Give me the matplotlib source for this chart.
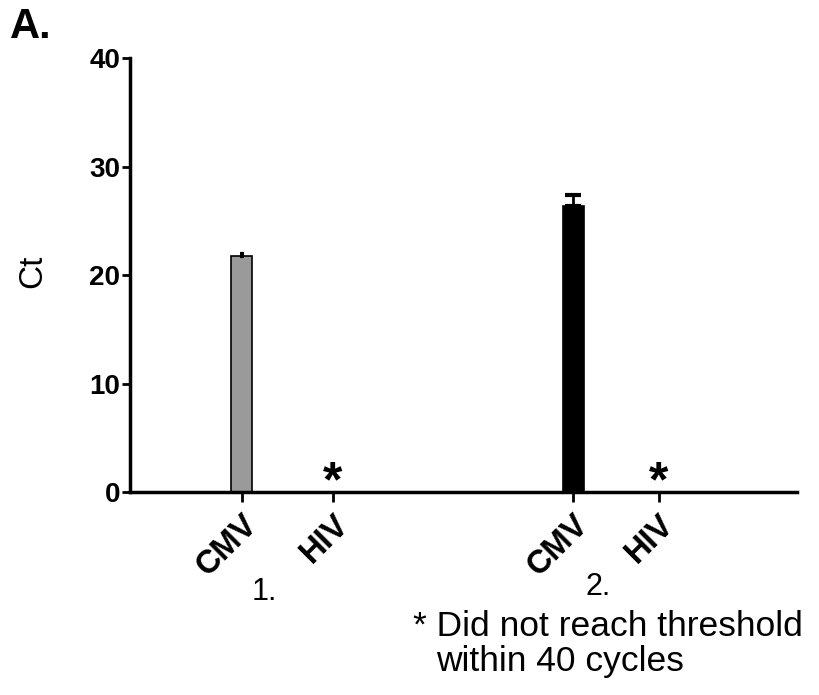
import matplotlib
matplotlib.use("Agg")
import matplotlib.pyplot as plt
import matplotlib.transforms as mtransforms

plt.rcParams['font.family'] = ['Liberation Sans', 'DejaVu Sans']

# Data
categories = ["CMV", "HIV", "CMV", "HIV"]
groups = ["1.", "2."]
ct_values = [21.8, 0.0, 26.4, 0.0]
ct_err = [0.15, 0.0, 1.0, 0.0]
not_reached = [False, True, False, True]
yticks = [0, 10, 20, 30, 40]

# Layout
xpos = [1.0, 2.0, 4.64, 5.58]
colors = ["#9a9a9a", "white", "black", "white"]
capsizes = [1.5, 0, 5.5, 0]

fig = plt.figure(figsize=(8.2, 6.95), dpi=100)
ax = fig.add_axes([0.1585, 0.292, 0.8134, 0.6245])

for x, v, e, c, nr, cs in zip(xpos, ct_values, ct_err, colors, not_reached, capsizes):
    if not nr:
        ax.bar(x, v, width=0.23, color=c, edgecolor="black", linewidth=1.2, zorder=2)
        ax.errorbar(x, v, yerr=[[0], [e]], fmt="none", ecolor="black",
                    elinewidth=2, capsize=cs, capthick=3, zorder=3)
    else:
        ax.annotate("*", (x, 0), xytext=(0, -10), textcoords="offset points",
                    ha="center", va="bottom", fontsize=36, fontweight="bold")

ax.set_xlim(-0.23, 7.1)
ax.set_ylim(0, 40)
ax.set_yticks(yticks)
ax.set_yticklabels([str(t) for t in yticks], fontsize=20, fontweight="bold")
ax.set_xticks(xpos)
ax.set_xticklabels(categories, rotation=45, ha="right", rotation_mode="anchor",
                   fontsize=23.5, fontweight="bold")
for sp in ["top", "right"]:
    ax.spines[sp].set_visible(False)
ax.spines["left"].set_linewidth(2.5)
ax.spines["bottom"].set_linewidth(2.5)
ax.tick_params(axis="y", length=6, width=2, pad=1)
ax.tick_params(axis="x", length=7, width=2, pad=5)

ax.set_ylabel("Ct", fontsize=24)
ax.yaxis.set_label_coords(-0.123, 0.509)

trans = mtransforms.blended_transform_factory(ax.transData, fig.transFigure)
ax.text(1.25, 1 - 592/695, groups[0], transform=trans, ha="center", va="center",
        fontsize=22)
ax.text(4.91, 1 - 587/695, groups[1], transform=trans, ha="center", va="center",
        fontsize=22)

fig.text(413/820, 1 - 626/695, "* Did not reach threshold", fontsize=25.5,
         ha="left", va="center")
fig.text(436/820, 1 - 661/695, "within 40 cycles", fontsize=25.5,
         ha="left", va="center")
fig.text(10/820, 1 - 27/695, "A.", fontsize=30, fontweight="bold",
         ha="left", va="center")

fig.savefig("out.png", dpi=100)
